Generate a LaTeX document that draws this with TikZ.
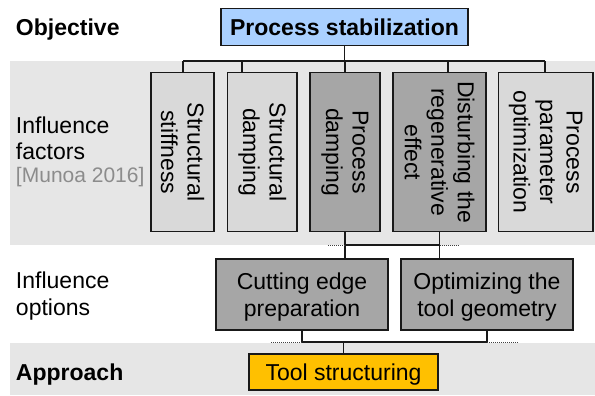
\documentclass[tikz,border=0pt]{standalone}
\usepackage{fontspec}
\setmainfont{Liberation Sans}
\definecolor{bluefill}{RGB}{170,208,255}
\definecolor{lightgr}{RGB}{217,217,217}
\definecolor{darkgr}{RGB}{166,166,166}
\definecolor{bandgr}{RGB}{230,230,230}
\definecolor{orangefill}{RGB}{255,192,0}
\definecolor{munoagr}{RGB}{140,140,140}
\definecolor{linecol}{RGB}{25,25,25}
\begin{document}
\begin{tikzpicture}[x=1pt,y=-1pt,
  every node/.style={font=\fontsize{23}{26.5}\selectfont, inner sep=0pt, outer sep=0pt},
  boxbase/.style={draw=linecol, line width=1.3pt, align=center},
  lightbox/.style={boxbase, fill=lightgr},
  darkbox/.style={boxbase, fill=darkgr},
  conn/.style={draw=linecol, line width=1.3pt},
  dots/.style={draw=black!75, line width=1pt, dash pattern=on 1pt off 1pt},
  lbl/.style={anchor=north west, align=left}
]
\useasboundingbox (0,0) rectangle (595,396);
% bands
\fill[bandgr] (9.5,61) rectangle (595,245);
\fill[bandgr] (9.5,343) rectangle (595,395);

% objective
\node[boxbase, fill=bluefill, minimum width=247, minimum height=37.4,
      text height=19pt, text depth=2pt,
      font=\bfseries\fontsize{23}{26.5}\selectfont] (T) at (344.5,27) {Process stabilization};

% influence factors
\node[lightbox, rotate=-90, minimum width=159, minimum height=63] (B1) at (182.5,152.2) {Structural\\stiffness};
\node[lightbox, rotate=-90, minimum width=159, minimum height=69.5] (B2) at (262.25,152.2) {Structural\\damping};
\node[darkbox, rotate=-90, minimum width=159, minimum height=70] (B3) at (345,152.2) {Process\\damping};
\node[darkbox, rotate=-90, minimum width=159, minimum height=93] (B4) at (439.5,152.2) {Disturbing the\\regenerative\\effect};
\node[lightbox, rotate=-90, minimum width=159, minimum height=94.5] (B5) at (545.75,152.2) {Process\\parameter\\optimization};

% influence options
\node[darkbox, minimum width=172, minimum height=71, text depth=0pt] (C1) at (302,294.5) {Cutting edge\\preparation};
\node[darkbox, minimum width=172, minimum height=71, text depth=0pt] (C2) at (487,294.5) {Optimizing the\\tool geometry};

% approach
\node[boxbase, fill=orangefill, minimum width=189, minimum height=36,
      text height=18pt, text depth=2pt] (D) at (343.5,372) {Tool structuring};

% row labels
\node[anchor=base west, font=\bfseries\fontsize{23}{26.5}\selectfont] (Lobj) at (16,35.5) {Objective};
\node[lbl] (Lfac) at (16,116.5) {Influence\\factors\\[-4pt]{\fontsize{21}{23}\selectfont\color{munoagr}[Munoa 2016]}};
\node[lbl] (Lopt) at (16,272) {Influence\\options};
\node[anchor=base west, font=\bfseries\fontsize{23}{26.5}\selectfont] (Lapp) at (16,380) {Approach};

% top bus
\coordinate (busL) at (183,61);
\coordinate (busR) at (545,61);
\coordinate (d2) at (242,61);
\coordinate (d4) at (448,61);
\draw[conn] (T.south) -- (T.south |- busL);
\draw[conn] (busL) -- (busR);
\draw[conn] (busL) -- (busL |- B1.west);
\draw[conn] (d2) -- (d2 |- B2.west);
\draw[conn] (B3.west |- busL) -- (B3.west);
\draw[conn] (d4) -- (d4 |- B4.west);
\draw[conn] (busR) -- (busR |- B5.west);

% middle bus
\coordinate (m1) at (345,245);
\coordinate (m2) at (439.5,245);
\coordinate (m1d) at (328,245);
\coordinate (m2d) at (459,245);
\draw[conn] (B3.east) -- (B3.east |- C1.north);
\draw[conn] (B4.east) -- (B4.east |- C2.north);
\draw[conn] (m1) -- (m2);
\draw[dots] (m1d) -- (m1);
\draw[dots] (m2) -- (m2d);

% lower bus
\coordinate (n1) at (302,342);
\coordinate (n2) at (487,342);
\coordinate (n1d) at (271,342);
\coordinate (n2d) at (518,342);
\draw[conn] (C1.south) -- (n1) -- (n2) -- (C2.south);
\draw[conn] (D.north |- n1) -- (D.north);
\draw[dots] (n1d) -- (n1);
\draw[dots] (n2) -- (n2d);
\end{tikzpicture}
\end{document}
